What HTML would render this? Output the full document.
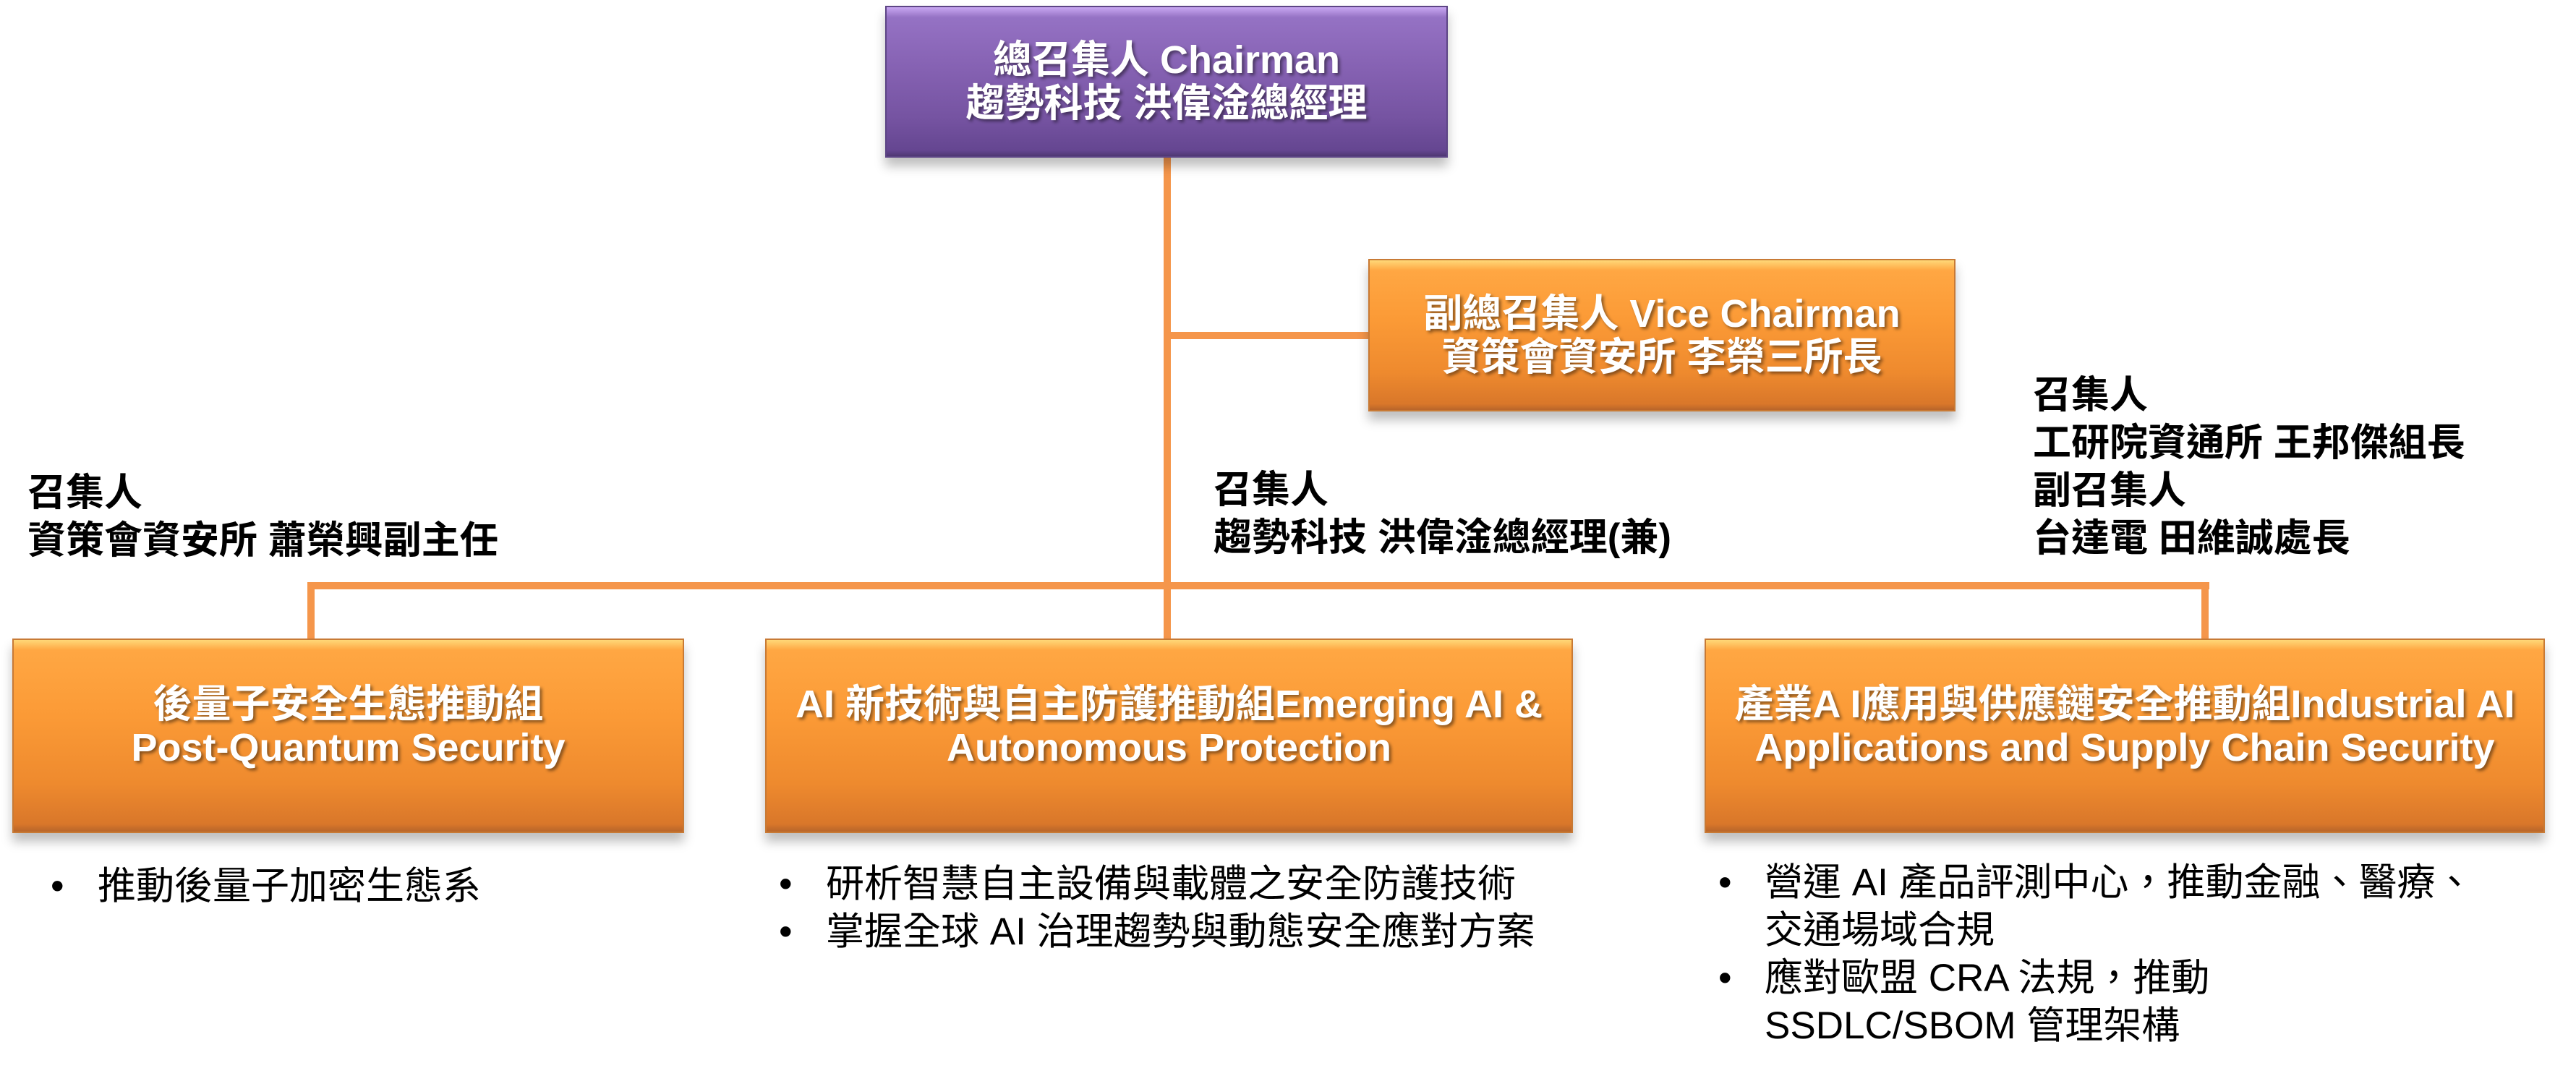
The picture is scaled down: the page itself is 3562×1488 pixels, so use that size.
<!DOCTYPE html>
<html><head><meta charset="utf-8">
<style>
html,body{margin:0;padding:0;background:#fff;}
body{width:3562px;height:1488px;position:relative;overflow:hidden;font-family:"Liberation Sans","Noto Sans CJK TC",sans-serif;}
.ln{position:absolute;background:#f5964b;}
.box{position:absolute;box-sizing:border-box;display:flex;flex-direction:column;justify-content:center;align-items:center;color:#fff;font-weight:bold;font-size:54px;line-height:60px;text-shadow:3px 3px 4px rgba(0,0,0,0.45);white-space:nowrap;box-shadow:0 12px 14px rgba(0,0,0,0.25);}
.or{background:linear-gradient(#ffd878 0px,#ffa743 14px,#fb9a36 40%,#ee8a2e 75%,#d9772a 96%,#b8652a 100%);border:2px solid #c87a35;}
.pu{background:linear-gradient(#c9a8f2 0px,#9572c4 14px,#8662b3 40%,#7553a1 75%,#654691 96%,#4f3873 100%);border:2px solid #5d4585;}
.lab{position:absolute;font-weight:bold;font-size:53px;line-height:66px;color:#000;white-space:nowrap;}
.bul{position:absolute;font-size:53px;line-height:66px;color:#000;white-space:nowrap;}
</style></head><body>
<div class="ln" style="left:1609px;top:218px;width:10px;height:666px;"></div>
<div class="ln" style="left:1614px;top:459px;width:280px;height:10px;"></div>
<div class="ln" style="left:425px;top:805px;width:2630px;height:10px;"></div>
<div class="ln" style="left:425px;top:805px;width:10px;height:80px;"></div>
<div class="ln" style="left:3044px;top:808px;width:10px;height:76px;"></div>

<div class="box pu" style="left:1224px;top:8px;width:778px;height:210px;"><div>總召集人 Chairman</div><div>趨勢科技 洪偉淦總經理</div></div>
<div class="box or" style="left:1892px;top:358px;width:812px;height:211px;"><div>副總召集人 Vice Chairman</div><div>資策會資安所 李榮三所長</div></div>

<div class="box or" style="left:17px;top:883px;width:929px;height:269px;padding-bottom:28px;"><div>後量子安全生態推動組</div><div>Post-Quantum Security</div></div>
<div class="box or" style="left:1058px;top:883px;width:1117px;height:269px;padding-bottom:28px;"><div>AI 新技術與自主防護推動組Emerging AI &amp;</div><div>Autonomous Protection</div></div>
<div class="box or" style="left:2357px;top:883px;width:1162px;height:269px;padding-bottom:28px;"><div>產業A I應用與供應鏈安全推動組Industrial AI</div><div>Applications and Supply Chain Security</div></div>

<div class="lab" style="left:38px;top:649px;">召集人<br>資策會資安所 蕭榮興副主任</div>
<div class="lab" style="left:1678px;top:645px;">召集人<br>趨勢科技 洪偉淦總經理(兼)</div>
<div class="lab" style="left:2811px;top:514px;">召集人<br>工研院資通所 王邦傑組長<br>副召集人<br>台達電 田維誠處長</div>

<div class="bul" style="left:70px;top:1193px;"><span style="display:inline-block;width:65px;">•</span>推動後量子加密生態系</div>
<div class="bul" style="left:1077px;top:1190px;"><span style="display:inline-block;width:65px;">•</span>研析智慧自主設備與載體之安全防護技術<br><span style="display:inline-block;width:65px;">•</span>掌握全球 AI 治理趨勢與動態安全應對方案</div>
<div class="bul" style="left:2376px;top:1188px;"><span style="display:inline-block;width:64px;">•</span>營運 AI 產品評測中心，推動金融、醫療、<br><span style="display:inline-block;width:64px;"></span>交通場域合規<br><span style="display:inline-block;width:64px;">•</span>應對歐盟 CRA 法規，推動<br><span style="display:inline-block;width:64px;"></span>SSDLC/SBOM 管理架構</div>
</body></html>
